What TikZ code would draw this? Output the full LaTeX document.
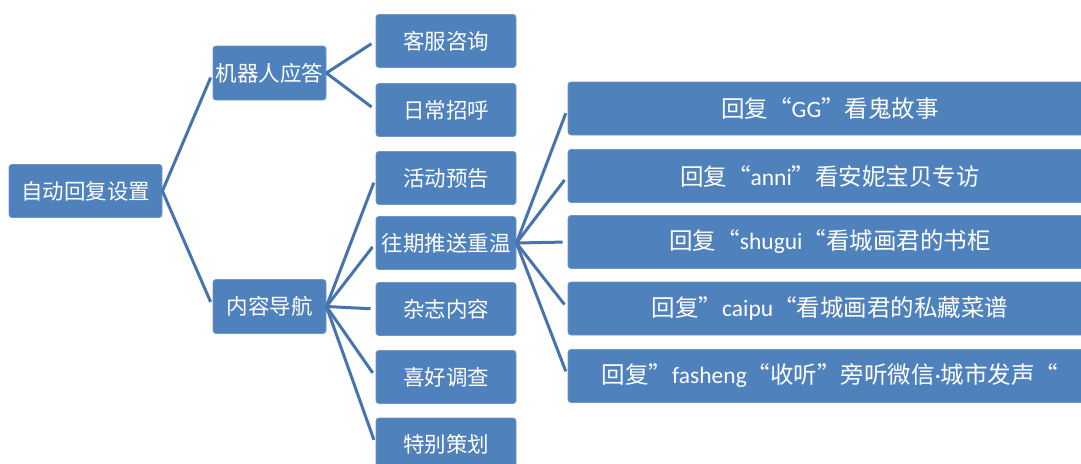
\documentclass[tikz,border=0pt]{standalone}
\usepackage{fontspec}
\setmainfont{Noto Sans CJK SC}
\newfontfamily\lat{Carlito}
\definecolor{boxblue}{HTML}{4F81BD}
\definecolor{boxedge}{HTML}{6E96C8}
\definecolor{lineblue}{HTML}{4874AE}
\tikzset{
  box/.style={fill=boxblue, draw=boxedge, line width=0.8pt, rounded corners=3pt,
    text=white, inner sep=0pt, anchor=center, font=\fontsize{21.5}{24}\selectfont},
  rootbox/.style={box, minimum width=153pt, minimum height=53pt},
  midbox/.style={box, minimum width=113pt, minimum height=54pt},
  leafbox/.style={box, minimum width=140pt, minimum height=53pt},
  wide/.style={box, minimum width=524pt, minimum height=53pt, font=\fontsize{23.5}{26}\selectfont},
  conn/.style={draw=lineblue, line width=3pt, shorten >=5pt}
}
\begin{document}
\begin{tikzpicture}[x=1pt,y=-1pt]
\useasboundingbox (0,0) rectangle (1081,463);
\node[rootbox] (root) at (85.5,191) {自动回复设置};
\node[midbox] (robot) at (269.5,73) {机器人应答};
\node[midbox] (nav) at (269.5,306.5) {内容导航};
\node[leafbox] (kf) at (446,41) {客服咨询};
\node[leafbox] (rc) at (446,110) {日常招呼};
\node[leafbox] (hd) at (446,178) {活动预告};
\node[leafbox] (wq) at (446,243) {往期推送重温};
\node[leafbox] (zz) at (446,309) {杂志内容};
\node[leafbox] (xh) at (446,377) {喜好调查};
\node[leafbox] (tb) at (446,444.5) {特别策划};
\node[wide] (g1) at (830,108.5) {回复“{\lat GG}”看鬼故事};
\node[wide] (g2) at (830,176) {回复“{\lat anni}”看安妮宝贝专访};
\node[wide] (g3) at (830,242) {回复“{\lat shugui}“看城画君的书柜};
\node[wide] (g4) at (830,308.5) {回复”{\lat caipu}“看城画君的私藏菜谱};
\node[wide] (g5) at (830,376) {回复”{\lat fasheng}“收听”旁听微信{\lat ·}城市发声“};
\foreach \t in {robot,nav} \draw[conn] (root.east) -- (\t.west);
\foreach \t in {kf,rc} \draw[conn] (robot.east) -- (\t.west);
\foreach \t in {hd,wq,zz,xh,tb} \draw[conn] (nav.east) -- (\t.west);
\foreach \t in {g1,g2,g3,g4,g5} \draw[conn] (wq.east) -- (\t.west);
\end{tikzpicture}
\end{document}
